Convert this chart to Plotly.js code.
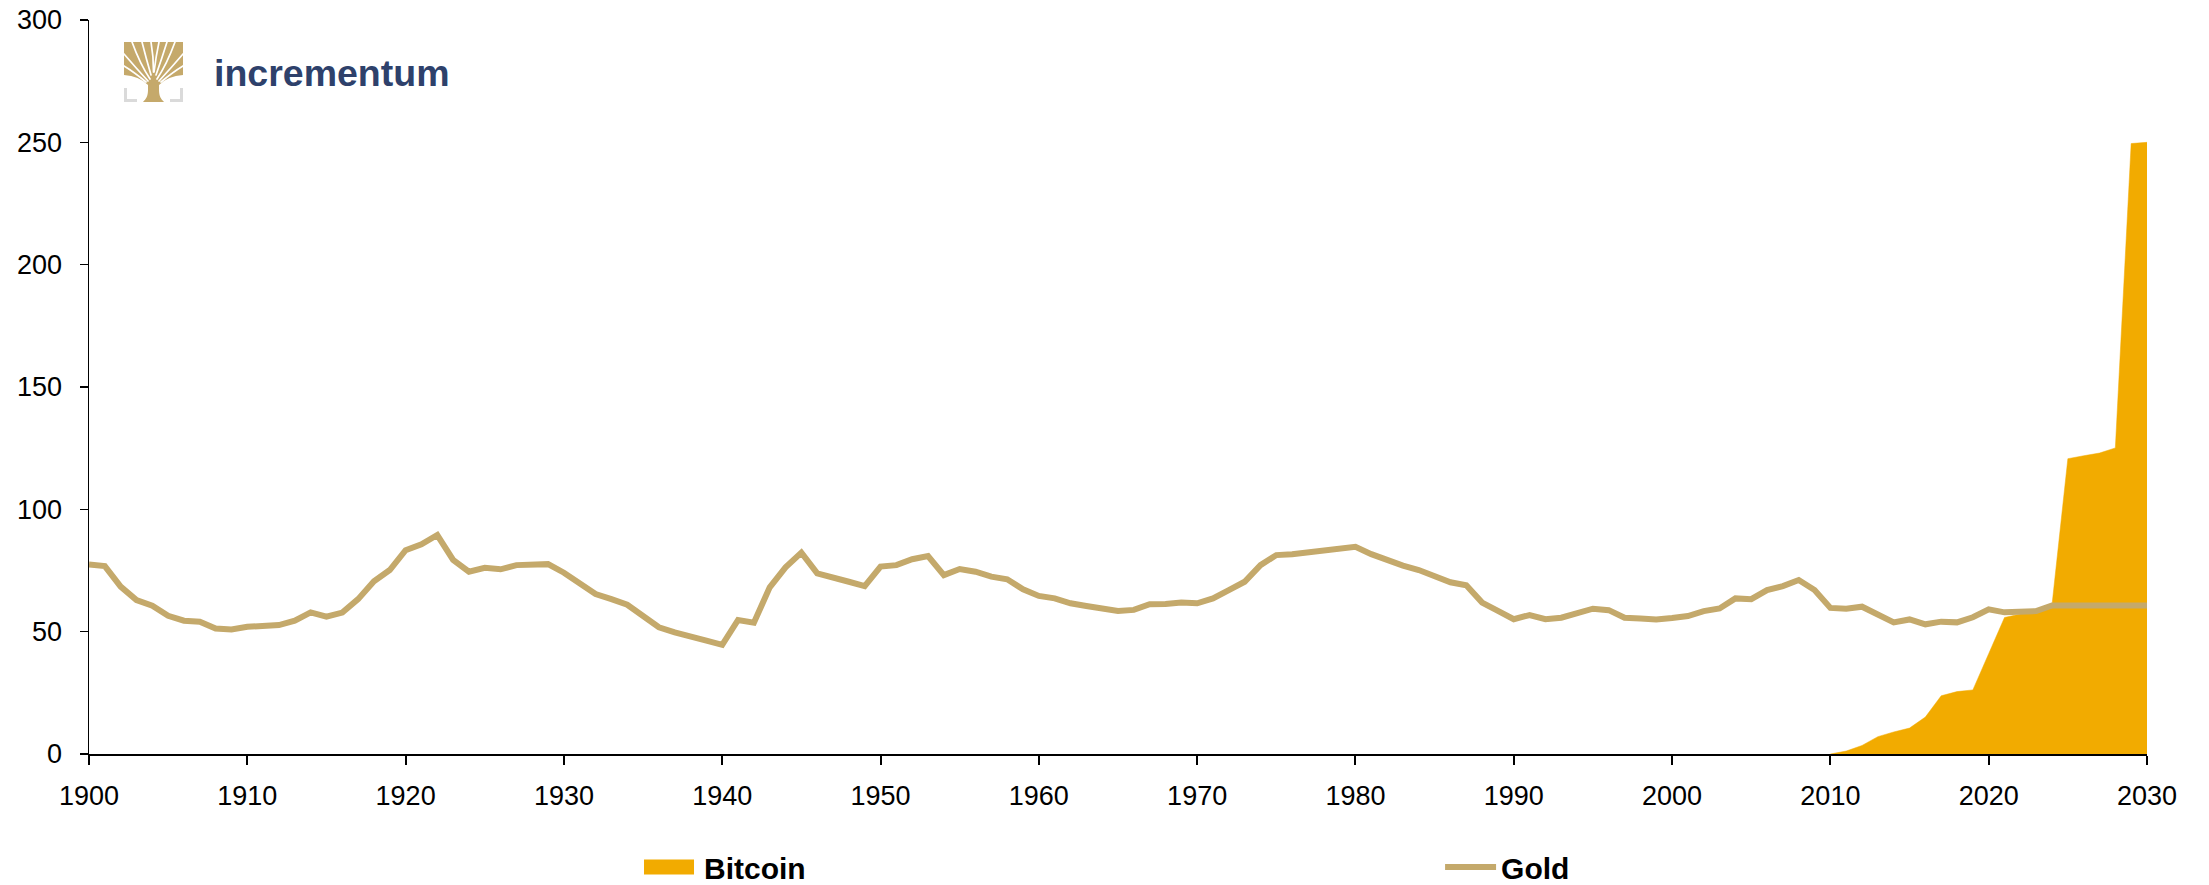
<!DOCTYPE html>
<html>
<head>
<meta charset="utf-8">
<script src="https://cdn.plot.ly/plotly-3.0.1.min.js"></script>
<style>html,body{margin:0;padding:0;background:#fff}#chart{width:2209px;height:885px}</style>
</head>
<body>
<div id="chart"></div>
<script>
var years = [1900,1901,1902,1903,1904,1905,1906,1907,1908,1909,
1910,1911,1912,1913,1914,1915,1916,1917,1918,1919,
1920,1921,1922,1923,1924,1925,1926,1927,1928,1929,
1930,1931,1932,1933,1934,1935,1936,1937,1938,1939,
1940,1941,1942,1943,1944,1945,1946,1947,1948,1949,
1950,1951,1952,1953,1954,1955,1956,1957,1958,1959,
1960,1961,1962,1963,1964,1965,1966,1967,1968,1969,
1970,1971,1972,1973,1974,1975,1976,1977,1978,1979,
1980,1981,1982,1983,1984,1985,1986,1987,1988,1989,
1990,1991,1992,1993,1994,1995,1996,1997,1998,1999,
2000,2001,2002,2003,2004,2005,2006,2007,2008,2009,
2010,2011,2012,2013,2014,2015,2016,2017,2018,2019,
2020,2021,2022,2023,2024,2025,2026,2027,2028,2029,2030];

var gold = [77.5,76.8,68.4,62.9,60.6,56.5,54.5,54.1,51.3,50.9,
52.0,52.2,52.7,54.5,57.9,56.1,57.8,63.3,70.6,75.2,
83.3,85.7,89.5,79.3,74.5,76.1,75.5,77.2,77.4,77.6,
74.1,70.0,65.4,63.3,61.0,56.4,51.8,49.7,47.7,46.3,
44.6,54.8,53.7,68.1,76.3,82.3,73.8,71.8,70.4,68.6,
76.6,77.2,79.6,80.9,73.1,75.6,74.5,72.5,71.4,67.3,
64.6,63.6,61.6,60.5,59.6,58.5,58.9,61.2,61.3,61.9,
61.6,63.6,67.0,70.4,77.2,81.3,81.6,82.4,83.3,84.3,
84.7,81.7,79.3,77.0,75.2,72.9,70.2,69.0,61.9,58.5,
55.1,56.8,55.1,55.7,57.5,59.4,58.8,55.7,55.4,55.0,
55.6,56.4,58.4,59.5,63.6,63.3,67.0,68.6,71.1,67.0,
59.7,59.4,60.2,56.8,53.8,55.0,53.0,54.1,53.8,55.9,
59.1,57.9,58.2,58.4,60.7,60.7,60.7,60.7,60.7,60.7,60.7];

var btcYears = [2010,2011,2012,2013,2014,2015,2016,2017,2018,2019,
2020,2021,2022,2023,2024,2025,2026,2027,2028,2029,2030];
var bitcoin = [0,1.2,3.5,7.1,9.0,10.6,15.1,23.8,25.5,26.2,
41.0,55.8,57.2,58.0,61.0,120.7,121.9,123.0,125.1,249.5,250.0];

var xTicks = [1900,1910,1920,1930,1940,1950,1960,1970,1980,1990,2000,2010,2020,2030];
var yTicks = [0,50,100,150,200,250,300];
var seriesNames = ['Bitcoin','Gold'];
var brandName = 'incrementum';

var FONT = 'Liberation Sans, Arial, Helvetica, sans-serif';
var GOLD = '#C4A96B';
var ORANGE = '#F2AB00';

var logoSvg = '<svg xmlns="http://www.w3.org/2000/svg" viewBox="0 0 59 60" width="59" height="60">' +
 '<path d="M0,46h3v11h10v3h-13z" fill="#dadada"/>' +
 '<path d="M59,46h-3v11h-10v3h13z" fill="#dadada"/>' +
 '<path d="M0,0H59V33Q44,34 35,43L35,48C35,54 37,57 40,60L19,60C22,57 24,54 24,48L24,43Q15,34 0,33Z" fill="#c5a96b"/>' +
 '<g fill="none" stroke="#ffffff" stroke-width="1.7" stroke-linecap="round">' +
 '<path d="M26,37 Q16,22 8,0"/>' +
 '<path d="M27,33 Q22,16 18,0"/>' +
 '<path d="M29.5,30 Q29.5,14 27,0"/>' +
 '<path d="M30,30 Q32,14 35,0"/>' +
 '<path d="M32,33 Q38,16 43,0"/>' +
 '<path d="M33,37 Q43,22 51,0"/>' +
 '<path d="M24,39 Q12,26 0,12"/>' +
 '<path d="M35,39 Q47,26 59,12"/>' +
 '<path d="M22,40 Q10,30 0,24"/>' +
 '<path d="M37,40 Q49,30 59,24"/>' +
 '</g>' +
 '</svg>';
var logoUri = 'data:image/svg+xml;base64,' + btoa(logoSvg);

var traces = [
  {
    x: btcYears, y: bitcoin, name: seriesNames[0], type: 'scatter', mode: 'lines',
    fill: 'tozeroy', fillcolor: ORANGE, line: {color: ORANGE, width: 0.5},
    legend: 'legend', hoverinfo: 'x+y+name'
  },
  {
    x: years, y: gold, name: seriesNames[1], type: 'scatter', mode: 'lines',
    line: {color: GOLD, width: 6},
    legend: 'legend2', hoverinfo: 'x+y+name'
  }
];

var legendFont = {family: FONT, size: 30, color: '#000000', weight: 'bold'};

var layout = {
  width: 2209, height: 885,
  margin: {l: 89, r: 62, t: 20, b: 131, pad: 0, autoexpand: false},
  paper_bgcolor: '#ffffff', plot_bgcolor: '#ffffff',
  font: {family: FONT, size: 27, color: '#000000'},
  showlegend: true,
  legend: {
    orientation: 'h', x: 0.2692, xanchor: 'left', y: -0.154, yanchor: 'middle',
    font: legendFont, itemwidth: 51, bgcolor: 'rgba(0,0,0,0)'
  },
  legend2: {
    orientation: 'h', x: 0.6565, xanchor: 'left', y: -0.154, yanchor: 'middle',
    font: legendFont, itemwidth: 51, bgcolor: 'rgba(0,0,0,0)'
  },
  xaxis: {
    range: [1900, 2030], tickmode: 'array', tickvals: xTicks, ticktext: xTicks.map(String),
    showgrid: false, zeroline: false, showline: true, linecolor: '#000000', linewidth: 2,
    ticks: 'outside', ticklen: 9, tickwidth: 2, tickcolor: '#000000',
    tickfont: {family: FONT, size: 27, color: '#000000'}, ticklabelstandoff: 8,
    fixedrange: true
  },
  yaxis: {
    range: [0, 300], tickmode: 'array', tickvals: yTicks, ticktext: yTicks.map(String),
    showgrid: false, zeroline: false, showline: true, linecolor: '#000000', linewidth: 1.5,
    ticks: 'outside', ticklen: 8, tickwidth: 1.5, tickcolor: '#000000',
    tickfont: {family: FONT, size: 27, color: '#000000'}, ticklabelstandoff: 12,
    fixedrange: true
  },
  images: [{
    source: logoUri, xref: 'paper', yref: 'paper',
    x: 0.01701, y: 0.97003, sizex: 0.02867, sizey: 0.08174,
    xanchor: 'left', yanchor: 'top', sizing: 'stretch', layer: 'above'
  }],
  annotations: [{
    text: brandName, xref: 'paper', yref: 'paper', x: 0.0598, y: 0.9278,
    xanchor: 'left', yanchor: 'middle', showarrow: false,
    font: {family: FONT, size: 37.5, color: '#2E416B', weight: 'bold'}
  }]
};

Plotly.newPlot('chart', traces, layout, {displayModeBar: false, staticPlot: true}).then(function (gd) {
  var items = gd.querySelectorAll('g.legend g.traces');
  items.forEach(function (item) {
    var t = item.querySelector('text.legendtext');
    if (!t) return;
    var name = t.textContent;
    if (name === seriesNames[0]) {
      var f = item.querySelector('path.js-fill');
      if (f) { f.setAttribute('d', 'M1,-7.5h50v15h-50z'); }
      var l = item.querySelector('path.js-line');
      if (l) { l.style.display = 'none'; }
    } else if (name === seriesNames[1]) {
      var l2 = item.querySelector('path.js-line');
      if (l2) {
        l2.setAttribute('d', 'M2,1h51');
        l2.style.strokeLinecap = 'round';
        l2.style.strokeWidth = '6px';
      }
    }
  });
});
</script>
</body>
</html>
